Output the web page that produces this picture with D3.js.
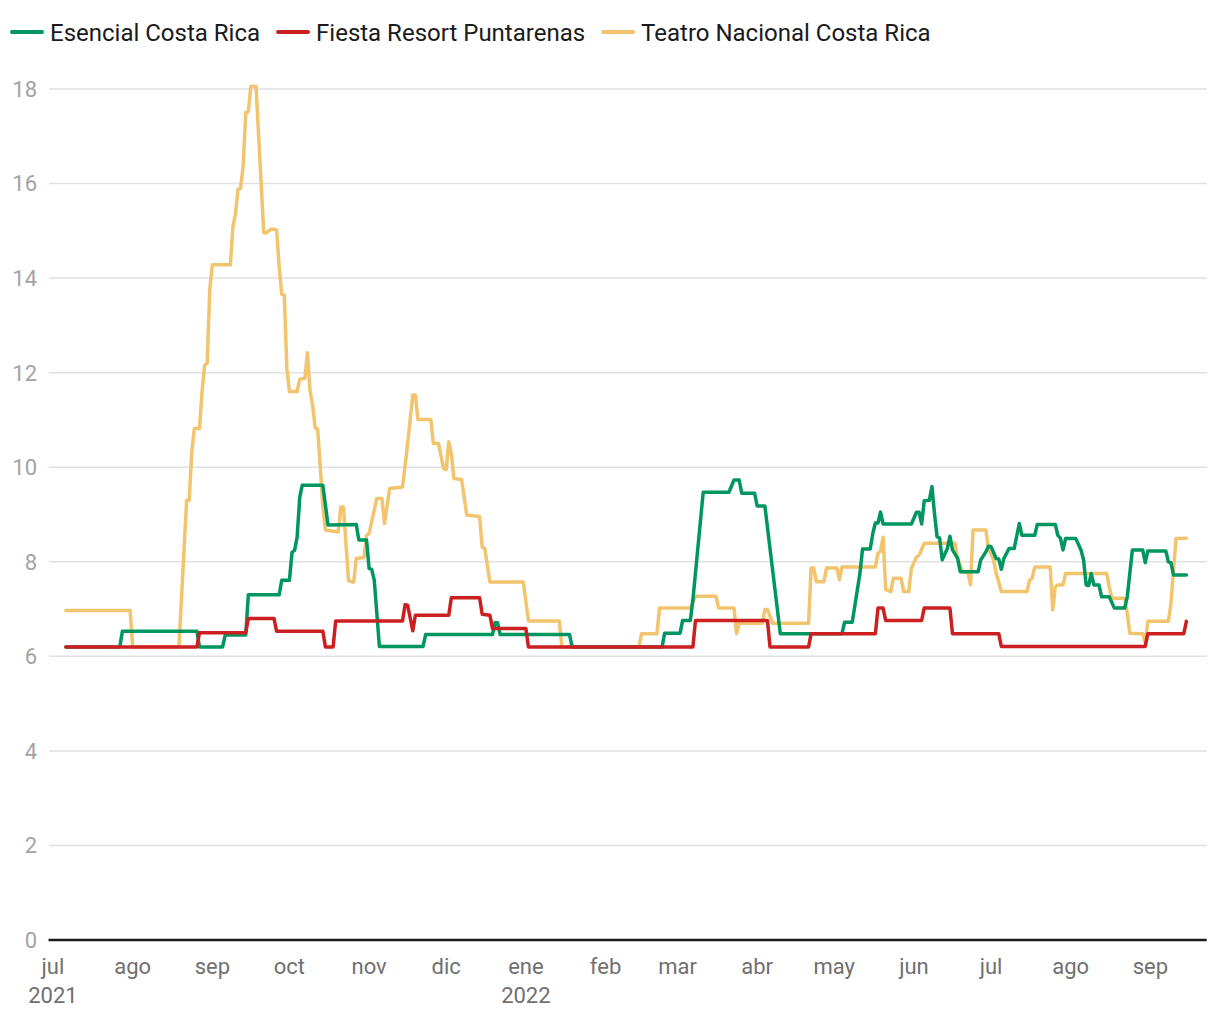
<!DOCTYPE html>
<html>
<head>
<meta charset="utf-8">
<script src="https://cdn.jsdelivr.net/npm/d3@7"></script>
<style>
  body { margin: 0; background: #fff; }
  svg { font-family: Roboto, "Noto Sans", sans-serif; }
</style>
</head>
<body>
<script>
var width = 1220, height = 1020;

// series names, colours as in the legend
var seriesNames = ["Esencial Costa Rica", "Fiesta Resort Puntarenas", "Teatro Nacional Costa Rica"];
var seriesColors = ["#00965f", "#cc1f1f", "#f2c46d"];

// data: [date, value] at every change
var esencial = [
 ["2021-07-06",6.2],["2021-07-27",6.2],["2021-07-28",6.53],["2021-08-26",6.53],["2021-08-27",6.2],
 ["2021-09-05",6.2],["2021-09-06",6.45],["2021-09-14",6.45],["2021-09-15",7.3],["2021-09-27",7.3],
 ["2021-09-28",7.61],["2021-10-01",7.61],["2021-10-02",8.2],["2021-10-03",8.24],["2021-10-04",8.52],
 ["2021-10-05",9.36],["2021-10-06",9.62],["2021-10-14",9.62],["2021-10-16",8.78],["2021-10-27",8.79],
 ["2021-10-28",8.46],["2021-10-31",8.46],["2021-11-01",7.86],["2021-11-02",7.84],["2021-11-03",7.61],
 ["2021-11-05",6.21],["2021-11-22",6.21],["2021-11-23",6.46],["2021-12-19",6.46],["2021-12-20",6.71],
 ["2021-12-21",6.71],["2021-12-22",6.46],["2022-01-18",6.46],["2022-01-19",6.2],["2022-02-23",6.2],
 ["2022-02-24",6.49],["2022-03-02",6.49],["2022-03-03",6.76],["2022-03-06",6.76],["2022-03-07",7.2],
 ["2022-03-11",9.47],["2022-03-21",9.47],["2022-03-23",9.73],["2022-03-25",9.73],["2022-03-26",9.45],
 ["2022-03-31",9.45],["2022-04-01",9.18],["2022-04-04",9.18],["2022-04-10",6.48],["2022-05-04",6.48],
 ["2022-05-05",6.72],["2022-05-08",6.72],["2022-05-11",7.76],["2022-05-12",8.27],["2022-05-15",8.27],
 ["2022-05-16",8.6],["2022-05-17",8.82],["2022-05-18",8.82],["2022-05-19",9.05],["2022-05-20",8.8],
 ["2022-05-31",8.8],["2022-06-02",9.05],["2022-06-03",9.05],["2022-06-04",8.8],["2022-06-05",9.29],
 ["2022-06-07",9.3],["2022-06-08",9.59],["2022-06-09",9.02],["2022-06-10",8.53],["2022-06-11",8.5],
 ["2022-06-12",8.04],["2022-06-14",8.28],["2022-06-15",8.54],["2022-06-16",8.25],["2022-06-18",8.07],
 ["2022-06-19",7.79],["2022-06-26",7.79],["2022-06-27",8.04],["2022-06-29",8.21],["2022-06-30",8.33],
 ["2022-07-01",8.32],["2022-07-03",8.07],["2022-07-04",8.06],["2022-07-05",7.84],["2022-07-06",8.07],
 ["2022-07-08",8.28],["2022-07-10",8.28],["2022-07-12",8.81],["2022-07-13",8.56],["2022-07-18",8.56],
 ["2022-07-19",8.79],["2022-07-26",8.79],["2022-07-27",8.56],["2022-07-28",8.5],["2022-07-29",8.25],
 ["2022-07-30",8.49],["2022-08-03",8.49],["2022-08-05",8.25],["2022-08-06",8.04],["2022-08-07",7.51],
 ["2022-08-08",7.5],["2022-08-09",7.75],["2022-08-10",7.51],["2022-08-12",7.51],["2022-08-13",7.26],
 ["2022-08-16",7.26],["2022-08-18",7.02],["2022-08-22",7.02],["2022-08-23",7.26],["2022-08-25",8.25],
 ["2022-08-29",8.25],["2022-08-30",7.98],["2022-08-31",8.23],["2022-09-07",8.23],["2022-09-08",8.0],
 ["2022-09-09",7.98],["2022-09-10",7.72],["2022-09-15",7.72]
];

var fiesta = [
 ["2021-07-06",6.2],["2021-08-26",6.2],["2021-08-27",6.5],["2021-09-14",6.5],["2021-09-15",6.8],
 ["2021-09-25",6.8],["2021-09-26",6.53],["2021-10-14",6.53],["2021-10-15",6.2],["2021-10-18",6.2],
 ["2021-10-19",6.75],["2021-11-14",6.75],["2021-11-15",7.09],["2021-11-16",7.08],["2021-11-18",6.54],
 ["2021-11-19",6.87],["2021-12-02",6.87],["2021-12-03",7.24],["2021-12-14",7.24],["2021-12-15",6.89],
 ["2021-12-18",6.87],["2021-12-19",6.59],["2022-01-01",6.59],["2022-01-02",6.2],["2022-03-07",6.2],
 ["2022-03-08",6.76],["2022-04-05",6.76],["2022-04-06",6.2],["2022-04-21",6.2],["2022-04-22",6.48],
 ["2022-05-17",6.48],["2022-05-18",7.02],["2022-05-20",7.02],["2022-05-21",6.76],["2022-06-04",6.76],
 ["2022-06-05",7.02],["2022-06-15",7.02],["2022-06-16",6.48],["2022-07-04",6.48],["2022-07-05",6.21],
 ["2022-08-30",6.21],["2022-08-31",6.48],["2022-09-14",6.48],["2022-09-15",6.74]
];

var teatro = [
 ["2021-07-06",6.97],["2021-07-31",6.97],["2021-08-01",6.2],["2021-08-19",6.2],["2021-08-22",9.3],
 ["2021-08-23",9.3],["2021-08-24",10.32],["2021-08-25",10.82],["2021-08-27",10.82],["2021-08-28",11.6],
 ["2021-08-29",12.16],["2021-08-30",12.2],["2021-08-31",13.76],["2021-09-01",14.28],["2021-09-08",14.28],
 ["2021-09-09",15.08],["2021-09-10",15.36],["2021-09-11",15.88],["2021-09-12",15.9],["2021-09-13",16.38],
 ["2021-09-14",17.5],["2021-09-15",17.52],["2021-09-16",18.06],["2021-09-18",18.06],["2021-09-21",14.96],
 ["2021-09-22",14.96],["2021-09-24",15.04],["2021-09-26",15.02],["2021-09-27",14.24],["2021-09-28",13.66],
 ["2021-09-29",13.64],["2021-09-30",12.08],["2021-10-01",11.6],["2021-10-04",11.6],["2021-10-05",11.86],
 ["2021-10-07",11.88],["2021-10-08",12.42],["2021-10-09",11.62],["2021-10-10",11.32],["2021-10-11",10.84],
 ["2021-10-12",10.8],["2021-10-13",10.0],["2021-10-14",9.16],["2021-10-15",8.67],["2021-10-20",8.63],
 ["2021-10-21",9.16],["2021-10-22",9.16],["2021-10-24",7.6],["2021-10-26",7.57],["2021-10-27",8.07],
 ["2021-10-30",8.09],["2021-10-31",8.56],["2021-11-01",8.6],["2021-11-04",9.34],["2021-11-06",9.34],
 ["2021-11-07",8.81],["2021-11-09",9.55],["2021-11-14",9.58],["2021-11-16",10.5],["2021-11-18",11.53],
 ["2021-11-19",11.53],["2021-11-20",11.01],["2021-11-25",11.01],["2021-11-26",10.5],["2021-11-28",10.5],
 ["2021-11-30",9.97],["2021-12-01",9.95],["2021-12-02",10.54],["2021-12-03",10.29],["2021-12-04",9.76],
 ["2021-12-07",9.74],["2021-12-09",8.99],["2021-12-14",8.96],["2021-12-15",8.31],["2021-12-16",8.28],
 ["2021-12-18",7.57],["2021-12-31",7.57],["2022-01-02",6.75],["2022-01-14",6.75],["2022-01-15",6.2],
 ["2022-02-14",6.2],["2022-02-15",6.48],["2022-02-21",6.48],["2022-02-22",7.02],["2022-03-06",7.02],
 ["2022-03-08",7.27],["2022-03-16",7.27],["2022-03-17",7.02],["2022-03-23",7.02],["2022-03-24",6.48],
 ["2022-03-25",6.7],["2022-04-03",6.7],["2022-04-04",6.99],["2022-04-05",6.99],["2022-04-07",6.7],
 ["2022-04-21",6.7],["2022-04-22",7.87],["2022-04-23",7.87],["2022-04-24",7.58],["2022-04-27",7.58],
 ["2022-04-28",7.87],["2022-05-02",7.87],["2022-05-03",7.62],["2022-05-04",7.89],["2022-05-17",7.89],
 ["2022-05-18",8.18],["2022-05-19",8.22],["2022-05-20",8.52],["2022-05-21",7.41],["2022-05-23",7.37],
 ["2022-05-24",7.65],["2022-05-27",7.65],["2022-05-28",7.37],["2022-05-30",7.37],["2022-05-31",7.86],
 ["2022-06-02",8.1],["2022-06-03",8.14],["2022-06-05",8.39],["2022-06-17",8.39],["2022-06-18",8.07],
 ["2022-06-20",7.78],["2022-06-22",7.78],["2022-06-23",7.51],["2022-06-24",8.67],["2022-06-29",8.67],
 ["2022-06-30",8.28],["2022-07-02",8.04],["2022-07-03",7.75],["2022-07-04",7.58],["2022-07-05",7.37],
 ["2022-07-15",7.37],["2022-07-16",7.61],["2022-07-17",7.65],["2022-07-18",7.89],["2022-07-24",7.89],
 ["2022-07-25",6.98],["2022-07-26",7.47],["2022-07-27",7.51],["2022-07-29",7.51],["2022-07-30",7.75],
 ["2022-08-15",7.75],["2022-08-16",7.47],["2022-08-17",7.23],["2022-08-22",7.23],["2022-08-23",6.91],
 ["2022-08-24",6.49],["2022-08-29",6.48],["2022-08-30",6.28],["2022-08-31",6.74],["2022-09-08",6.74],
 ["2022-09-09",7.12],["2022-09-10",7.82],["2022-09-11",8.49],["2022-09-15",8.5]
];

// axis labels
var monthLabels = ["ene","feb","mar","abr","may","jun","jul","ago","sep","oct","nov","dic"];
var yTicks = [0, 2, 4, 6, 8, 10, 12, 14, 16, 18];

var parse = d3.timeParse("%Y-%m-%d");
var seriesData = [esencial, fiesta, teatro].map(function(s, i) {
  return {
    name: seriesNames[i],
    color: seriesColors[i],
    values: s.map(function(d) { return {date: parse(d[0]), value: d[1]}; })
  };
});

var svg = d3.select('body').append('svg').attr('width', width).attr('height', height);

var x = d3.scaleTime()
  .domain([new Date(2021, 5, 29, 6), new Date(2022, 8, 22, 22)])
  .range([48.5, 1206.7]);
var y = d3.scaleLinear().domain([0, 18]).range([940, 89]);

// gridlines + y labels
var yAxis = svg.append('g').attr('class', 'y-axis');
yAxis.selectAll('line')
  .data(yTicks.filter(function(d) { return d > 0; }))
  .join('line')
  .attr('x1', 49).attr('x2', 1207)
  .attr('y1', function(d) { return y(d); })
  .attr('y2', function(d) { return y(d); })
  .attr('stroke', '#e1e1e1')
  .attr('stroke-width', 1.5);
yAxis.selectAll('text')
  .data(yTicks)
  .join('text')
  .attr('x', 37)
  .attr('y', function(d) { return y(d); })
  .attr('dy', '0.36em')
  .attr('text-anchor', 'end')
  .attr('fill', '#a3a3a3')
  .style('font-size', '22px')
  .text(function(d) { return d; });

// lines, drawn Teatro first so red sits on top
var line = d3.line()
  .x(function(d) { return x(d.date); })
  .y(function(d) { return y(d.value); });

svg.append('g')
  .selectAll('path')
  .data([seriesData[2], seriesData[0], seriesData[1]])
  .join('path')
  .attr('d', function(d) { return line(d.values); })
  .attr('fill', 'none')
  .attr('stroke', function(d) { return d.color; })
  .attr('stroke-width', 3.5)
  .attr('stroke-linejoin', 'round')
  .attr('stroke-linecap', 'round');

// x axis
svg.append('line')
  .attr('x1', 48.5).attr('x2', 1206.7)
  .attr('y1', 940).attr('y2', 940)
  .attr('stroke', '#1a1a1a')
  .attr('stroke-width', 2.5);

var months = x.ticks(d3.timeMonth.every(1));
var xAxis = svg.append('g').attr('class', 'x-axis');
xAxis.selectAll('text.month')
  .data(months)
  .join('text')
  .attr('class', 'month')
  .attr('x', function(d) { return x(d); })
  .attr('y', 974)
  .attr('text-anchor', 'middle')
  .attr('fill', '#707070')
  .style('font-size', '22px')
  .text(function(d) { return monthLabels[d.getMonth()]; });
xAxis.selectAll('text.year')
  .data(months.filter(function(d, i) { return i === 0 || d.getMonth() === 0; }))
  .join('text')
  .attr('class', 'year')
  .attr('x', function(d) { return x(d); })
  .attr('y', 1003)
  .attr('text-anchor', 'middle')
  .attr('fill', '#707070')
  .style('font-size', '22px')
  .text(function(d) { return d.getFullYear(); });

// legend
var legend = svg.append('g').attr('class', 'legend');
var lx = 12;
seriesData.forEach(function(s) {
  legend.append('line')
    .attr('x1', lx).attr('x2', lx + 30)
    .attr('y1', 32).attr('y2', 32)
    .attr('stroke', s.color)
    .attr('stroke-width', 4)
    .attr('stroke-linecap', 'round');
  var t = legend.append('text')
    .attr('x', lx + 38)
    .attr('y', 32)
    .attr('dy', '0.36em')
    .attr('fill', '#1a1a1a')
    .style('font-size', '24px')
    .text(s.name);
  lx += 38 + t.node().getComputedTextLength() + 18;
});
console.log('ready..');
</script>
</body>
</html>
